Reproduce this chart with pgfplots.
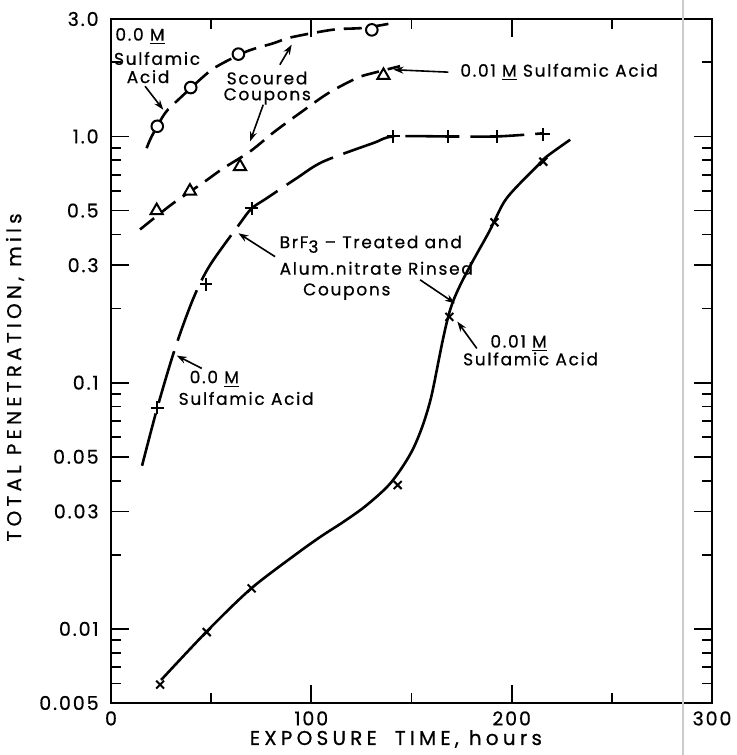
\documentclass[border=0pt]{standalone}
\usepackage{fontspec}
\setmainfont{Poppins}[LetterSpace=10, FakeBold=0.6]
\newfontfamily\labfont{Poppins}[LetterSpace=21, FakeBold=0.6]
\usepackage{pgfplots}
\pgfplotsset{compat=1.18}
\usetikzlibrary{arrows.meta}
\tikzset{
  ann/.style={font=\fontsize{8.5}{9}\selectfont, inner sep=0pt},
  arr/.style={-{Stealth[length=5pt,width=3.5pt]}, line width=0.8pt},
}
\begin{document}
\begin{tikzpicture}
\begin{axis}[
  scale only axis, width=300.5pt, height=342pt,
  xmin=0, xmax=300, ymin=0.005, ymax=3,
  ymode=log, clip=false,
  axis line style={line width=1pt},
  xtick={0,100,200,300}, minor xtick={50,150,250},
  ytick={0.005,0.01,0.03,0.05,0.1,0.3,0.5,1,3},
  yticklabels={0.005,0.01,0.03,0.05,0.1,0.3,0.5,1.0,3.0},
  minor ytick={0.006,0.007,0.008,0.009,0.02,0.04,0.06,0.07,0.08,0.09,0.2,0.4,0.6,0.7,0.8,0.9,2},
  major tick length=9pt, minor tick length=5pt,
  tick style={black, line width=0.9pt},
  tick align=inside,
  /pgf/number format/assume math mode=true,
  xticklabel style={font=\fontsize{9.5}{10}\selectfont, inner sep=0pt, yshift=-4pt},
  yticklabel style={font=\fontsize{9.5}{10}\selectfont, inner sep=0pt, anchor=east, xshift=-6pt},
]
% scan artifact line
\draw[gray!40, line width=0.8pt] (rel axis cs:0.952,-0.076) -- (rel axis cs:0.952,1.028);

% 0.0 M sulfamic acid, scoured coupons (circles)
\addplot[line width=1.3pt, dash pattern=on 9pt off 4.5pt, smooth] coordinates {
 (17.8,0.896) (20.3,1.0) (27,1.244) (33.6,1.41) (46.1,1.75) (52.8,1.925) (67.7,2.215)
 (81,2.39) (90.2,2.53) (111,2.716) (126,2.76) (141,2.89)};
\addplot[only marks, mark=*, mark size=2.9pt, mark options={fill=white, line width=1pt}] coordinates {
 (23.1,1.1) (39.8,1.58) (63.6,2.16) (130.2,2.71)};

% 0.01 M sulfamic acid, scoured coupons (triangles)
\addplot[line width=1.3pt, dash pattern=on 9pt off 4.5pt, smooth] coordinates {
 (14.5,0.419) (30.3,0.53) (46.1,0.65) (56.1,0.743) (69.4,0.869) (81.9,1.05) (95.2,1.26)
 (108.5,1.5) (122.7,1.727) (130.8,1.81) (144.3,1.93)};
\addplot[only marks, mark=triangle*, mark size=3.5pt, mark options={fill=white, line width=1pt}] coordinates {
 (22.8,0.5) (39.4,0.6) (64.4,0.755) (136,1.77)};

% 0.0 M, BrF3 treated (plus)
\addplot[line width=1.3pt, dash pattern=on 27pt off 5.5pt, smooth] coordinates {
 (15.5,0.046) (23.1,0.079) (32,0.138) (41.1,0.22) (49.4,0.30) (64.4,0.444) (70.2,0.51)
 (77.7,0.561) (92.7,0.677) (105.8,0.79) (130.9,0.94) (141,1.0) (168.4,1.0) (192.5,1.0) (215.8,1.03)};
\addplot[only marks, mark=+, mark size=3.2pt, mark options={line width=1pt}] coordinates {
 (23.1,0.079) (47.4,0.251) (70.2,0.51) (141,1.0) (168.4,1.0) (192.5,1.0) (215.8,1.02)};

% 0.01 M, BrF3 treated (x)
\addplot[line width=1.3pt, smooth] coordinates {
 (25,0.0062) (48,0.0098) (70,0.0146) (92.7,0.0202) (105,0.0238) (116,0.0272) (127.6,0.0318)
 (140,0.0395) (151,0.0543) (159.3,0.084) (170.1,0.207) (189.2,0.417) (197.5,0.561)
 (212.5,0.755) (217.5,0.829) (229.2,0.97)};
\addplot[only marks, mark=x, mark size=2.8pt, mark options={line width=1pt}] coordinates {
 (24.5,0.00594) (47.8,0.0097) (70.2,0.0146) (143.1,0.0384) (168.9,0.185) (191.4,0.448) (215.8,0.79)};

% annotations
\node[ann, anchor=west] at (axis cs:2,2.55) {0.0 \underline{M}};
\node[ann] at (axis cs:23,2.075) {Sulfamic};
\node[ann] at (axis cs:18.5,1.75) {Acid};
\draw[arr] (axis cs:17,1.6) -- (axis cs:26.1,1.284);

\node[ann] at (axis cs:77.9,1.726) {Scoured};
\node[ann] at (axis cs:78,1.454) {Coupons};
\draw[arr] (axis cs:84.3,1.957) -- (axis cs:90.2,2.36);
\draw[arr] (axis cs:76,1.346) -- (axis cs:69.4,0.954);

\node[ann, anchor=west] at (axis cs:174.2,1.825) {0.01 \underline{M} Sulfamic Acid};
\draw[arr] (axis cs:168.4,1.825) -- (axis cs:141,1.867);

\node[ann, anchor=west] at (axis cs:84,0.365) {BrF\raisebox{-0.5ex}{3} – Treated and};
\node[ann, anchor=west] at (axis cs:84,0.2915) {Alum.nitrate Rinsed};
\node[ann] at (axis cs:117.7,0.2344) {Coupons};
\draw[arr] (axis cs:81.9,0.325) -- (axis cs:63.6,0.4045);
\draw[arr] (axis cs:154.3,0.2616) -- (axis cs:171.7,0.21);

\node[ann, anchor=west] at (axis cs:39.1,0.1035) {0.0 \underline{M}};
\node[ann, anchor=west] at (axis cs:33.6,0.0863) {Sulfamic Acid};
\draw[arr] (axis cs:45.3,0.1143) -- (axis cs:32.8,0.1288);

\node[ann, anchor=west] at (axis cs:189.2,0.1445) {0.01 \underline{M}};
\node[ann, anchor=west] at (axis cs:175.6,0.1249) {Sulfamic Acid};
\draw[arr] (axis cs:182.6,0.1378) -- (axis cs:172.9,0.177);

% axis labels
\node[font=\labfont\fontsize{10}{11}\selectfont, yshift=-18pt] at (rel axis cs:0.474,0) {EXPOSURE\hspace{9pt}TIME,\hspace{5pt}hours};
\node[font=\labfont\fontsize{10}{11}\selectfont, xshift=-48pt, rotate=90] at (rel axis cs:0,0.476) {TOTAL\hspace{5pt}PENETRATION,\hspace{5pt}mils};
\end{axis}
\pgfresetboundingbox
\path[use as bounding box] (current axis.south west) ++(-55.5pt,-26pt) rectangle (current axis.north east) ++(12.5pt,9.5pt);
\end{tikzpicture}
\end{document}
